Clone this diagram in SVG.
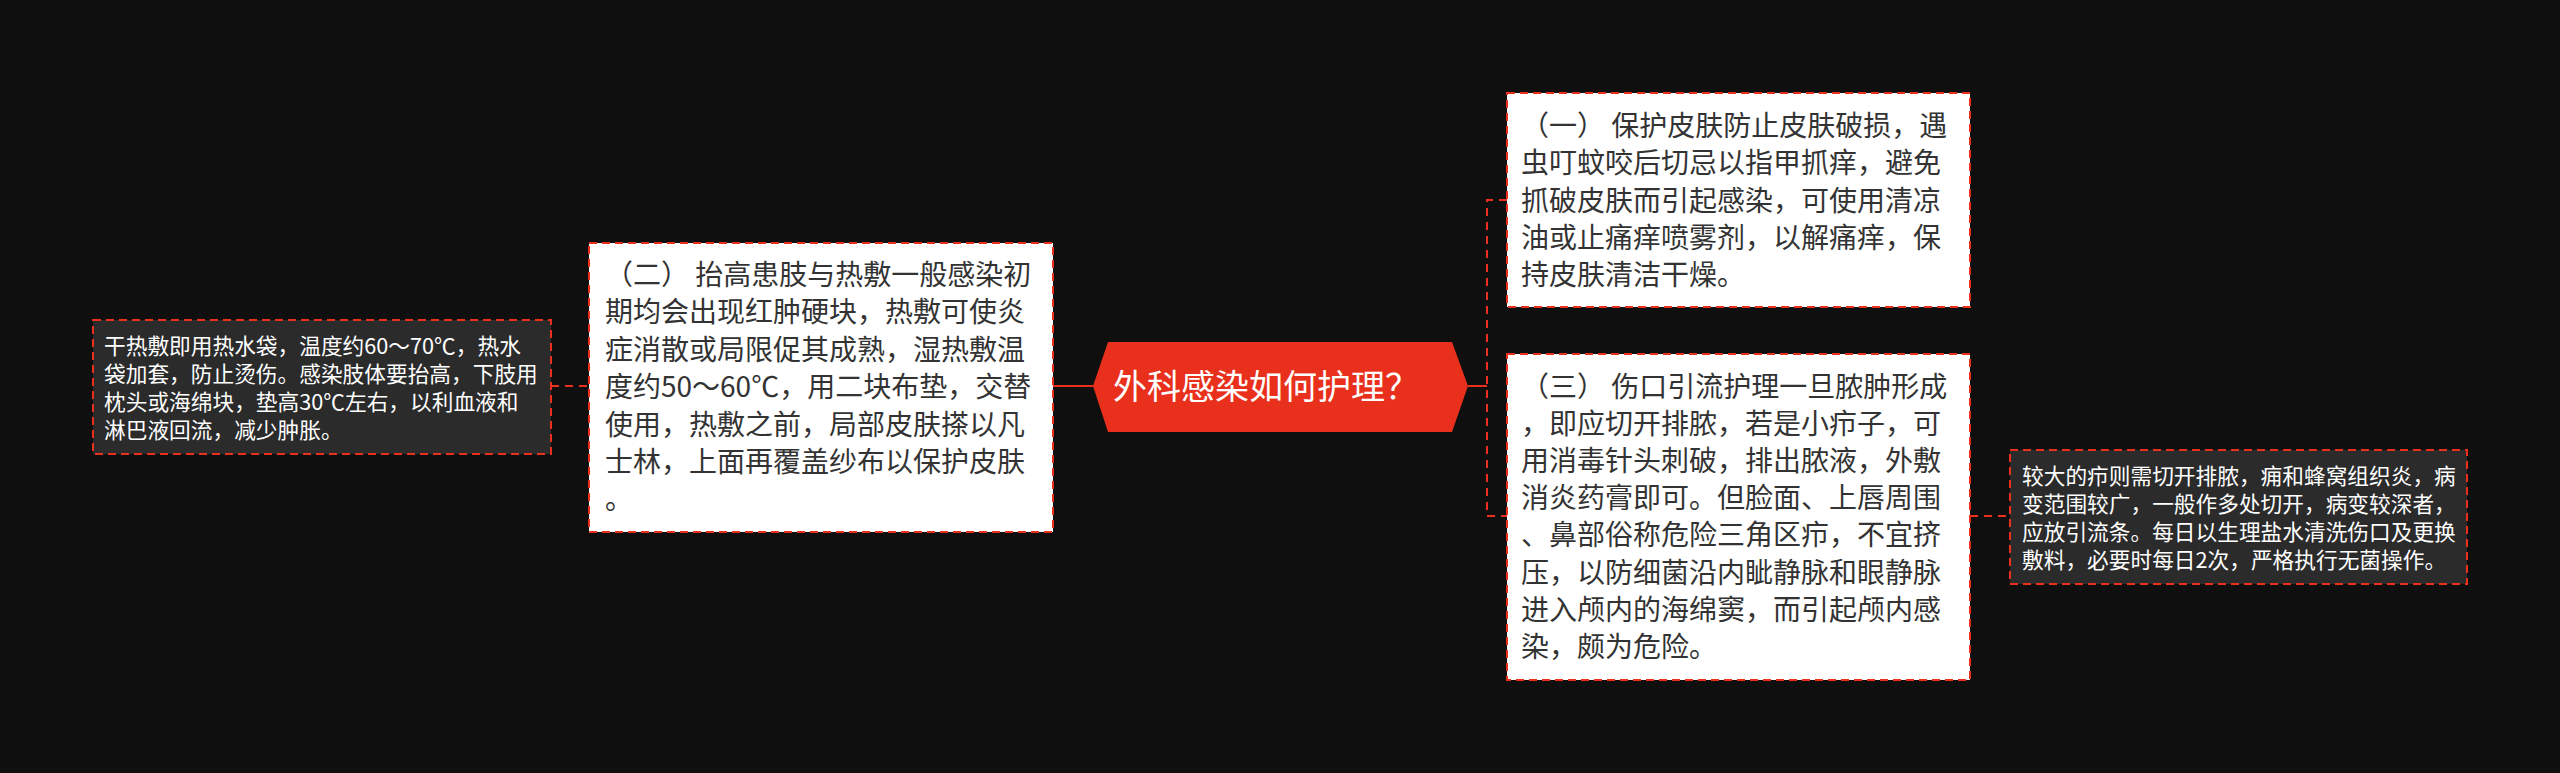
<svg xmlns="http://www.w3.org/2000/svg" width="2560" height="773" viewBox="0 0 2560 773">
<style>
.bg{fill:#0f0f0f}
.box{fill:#ffffff;stroke:#e8301c;stroke-width:2;stroke-dasharray:8,5}
.leaf{fill:#2b2b2b;stroke:#e8301c;stroke-width:2;stroke-dasharray:8,5}
.t{font-family:"Noto Sans CJK SC","Noto Sans",sans-serif;font-size:28px;fill:#333333}
.lt{font-family:"Noto Sans CJK SC","Noto Sans",sans-serif;font-size:21.7px;fill:#ffffff}
.ct{font-family:"Noto Sans CJK SC","Noto Sans",sans-serif;font-size:34px;fill:#ffffff}
.dash{fill:none;stroke:#e8301c;stroke-width:2;stroke-dasharray:8,6}
.solid{fill:none;stroke:#e8301c;stroke-width:2}
</style>
<rect class="bg" x="0" y="0" width="2560" height="773"/>
<g id="connectors">
<line class="dash" x1="551" y1="386" x2="589" y2="386"/>
<line class="solid" x1="1053" y1="386" x2="1093" y2="386"/>
<line class="solid" x1="1468" y1="386" x2="1487" y2="386"/>
<polyline class="dash" points="1507,200 1487,200 1487,516 1507,516"/>
<line class="dash" x1="1970" y1="516" x2="2010" y2="516"/>
</g>
<g id="center">
<polygon points="1093,386 1108,342 1452,342 1468,386 1452,432 1108,432" fill="#e8301c"/>
<text class="ct" x="1113" y="399">外科感染如何护理？</text>
</g>
<g id="node-er">
<rect class="box" x="589" y="243" width="464" height="289"/>
<text class="t"><tspan x="605" y="285">（二） 抬高患肢与热敷一般感染初</tspan><tspan x="605" y="322.4">期均会出现红肿硬块，热敷可使炎</tspan><tspan x="605" y="359.8">症消散或局限促其成熟，湿热敷温</tspan><tspan x="605" y="397.2">度约50～60℃，用二块布垫，交替</tspan><tspan x="605" y="434.6">使用，热敷之前，局部皮肤搽以凡</tspan><tspan x="605" y="472">士林，上面再覆盖纱布以保护皮肤</tspan><tspan x="605" y="509.4">。</tspan></text>
</g>
<g id="leaf-left">
<rect class="leaf" x="93" y="320" width="458" height="134"/>
<text class="lt"><tspan x="104" y="354">干热敷即用热水袋，温度约60～70℃，热水</tspan><tspan x="104" y="382">袋加套，防止烫伤。感染肢体要抬高，下肢用</tspan><tspan x="104" y="410">枕头或海绵块，垫高30℃左右，以利血液和</tspan><tspan x="104" y="438">淋巴液回流，减少肿胀。</tspan></text>
</g>
<g id="node-yi">
<rect class="box" x="1507" y="93" width="463" height="214"/>
<text class="t"><tspan x="1521" y="136">（一） 保护皮肤防止皮肤破损，遇</tspan><tspan x="1521" y="173.25">虫叮蚊咬后切忌以指甲抓痒，避免</tspan><tspan x="1521" y="210.5">抓破皮肤而引起感染，可使用清凉</tspan><tspan x="1521" y="247.75">油或止痛痒喷雾剂，以解痛痒，保</tspan><tspan x="1521" y="285">持皮肤清洁干燥。</tspan></text>
</g>
<g id="node-san">
<rect class="box" x="1507" y="354" width="463" height="326"/>
<text class="t"><tspan x="1521" y="397">（三） 伤口引流护理一旦脓肿形成</tspan><tspan x="1521" y="434.1">，即应切开排脓，若是小疖子，可</tspan><tspan x="1521" y="471.2">用消毒针头刺破，排出脓液，外敷</tspan><tspan x="1521" y="508.3">消炎药膏即可。但脸面、上唇周围</tspan><tspan x="1521" y="545.4">、鼻部俗称危险三角区疖，不宜挤</tspan><tspan x="1521" y="582.5">压，以防细菌沿内眦静脉和眼静脉</tspan><tspan x="1521" y="619.6">进入颅内的海绵窦，而引起颅内感</tspan><tspan x="1521" y="656.7">染，颇为危险。</tspan></text>
</g>
<g id="leaf-right">
<rect class="leaf" x="2010" y="450" width="457" height="134"/>
<text class="lt"><tspan x="2022" y="484">较大的疖则需切开排脓，痈和蜂窝组织炎，病</tspan><tspan x="2022" y="512">变范围较广，一般作多处切开，病变较深者，</tspan><tspan x="2022" y="540">应放引流条。每日以生理盐水清洗伤口及更换</tspan><tspan x="2022" y="568">敷料，必要时每日2次，严格执行无菌操作。</tspan></text>
</g>
</svg>
